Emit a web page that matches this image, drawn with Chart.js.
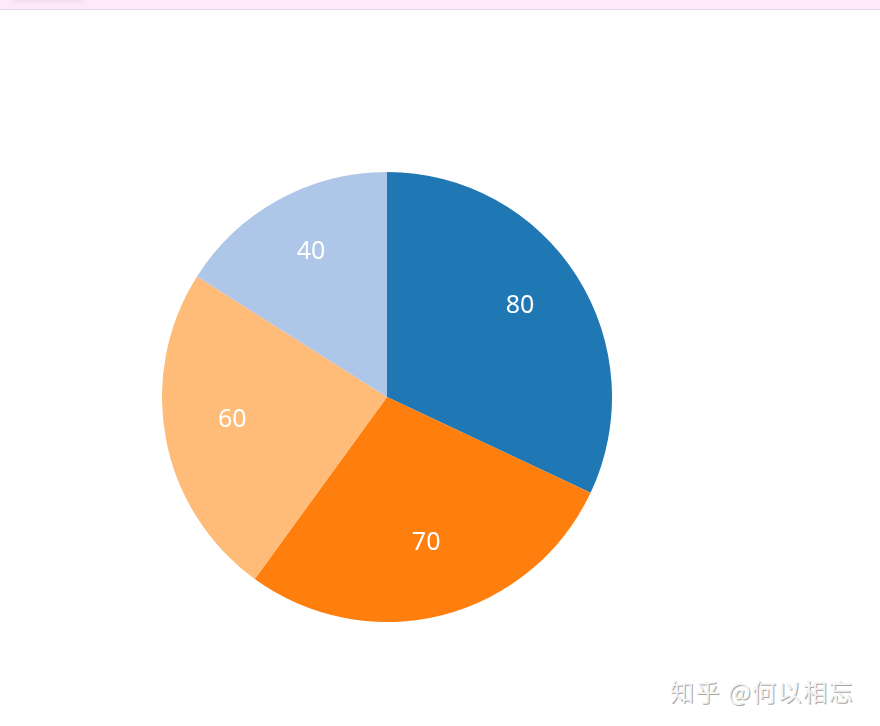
<!DOCTYPE html>
<html>
<head>
<meta charset="utf-8">
<script src="https://cdn.jsdelivr.net/npm/chart.js@4/dist/chart.umd.min.js"></script>
<style>
  html, body { margin: 0; padding: 0; background: #fff; }
  body { width: 880px; height: 726px; position: relative; overflow: hidden; }
  .topbar { position: absolute; left: 0; top: 0; width: 880px; height: 9px; background: #fde9fc; border-bottom: 1px solid #e6d3e4; }
  .topbar .tab { position: absolute; left: 12px; top: -4px; width: 72px; height: 6px; border-radius: 4px; background: #ead9ea; filter: blur(2px); }
  .pie-wrap { position: absolute; left: 162px; top: 172px; width: 450px; height: 450px; }
  .mark { position: absolute; left: 670px; top: 673px; font: 24px "Noto Sans CJK SC", sans-serif; color: #f4f4f4; letter-spacing: 1.5px;
          text-shadow: 1px 1px 0 #a8a8a8; }
</style>
</head>
<body>
<div class="topbar"><div class="tab"></div></div>
<div class="pie-wrap"><canvas id="pie" width="450" height="450"></canvas></div>
<div class="mark">知乎 @何以相忘</div>
<script>
let labels = ['A', 'B', 'C', 'D']
let values = [80, 70, 60, 40]
let colors = ['#1f77b4', '#ff7f0e', '#ffbb78', '#aec7e8']

// draws the value of each slice inside it
let sliceLabels = {
    id: 'sliceLabels',
    afterDatasetsDraw: function (chart) {
        let ctx = chart.ctx
        let meta = chart.getDatasetMeta(0)
        ctx.save()
        ctx.fillStyle = '#fff'
        ctx.font = '25px "Noto Sans", sans-serif'
        ctx.textAlign = 'center'
        ctx.textBaseline = 'alphabetic'
        meta.data.forEach(function (arc, i) {
            let p = arc.getProps(['x', 'y', 'startAngle', 'endAngle', 'outerRadius'], true)
            let mid = (p.startAngle + p.endAngle) / 2
            let r = p.outerRadius * 0.7
            ctx.fillText(String(values[i]), p.x + Math.cos(mid) * r, p.y + Math.sin(mid) * r)
        })
        ctx.restore()
    }
}

let pie = new Chart(document.getElementById('pie').getContext('2d'), {
    type: 'pie',
    data: {
        labels: labels,
        datasets: [{
            data: values,
            backgroundColor: colors,
            borderWidth: 0
        }]
    },
    options: {
        responsive: false,
        animation: false,
        layout: { padding: 0 },
        plugins: {
            legend: { display: false },
            tooltip: { enabled: false }
        }
    },
    plugins: [sliceLabels]
})
</script>
</body>
</html>
